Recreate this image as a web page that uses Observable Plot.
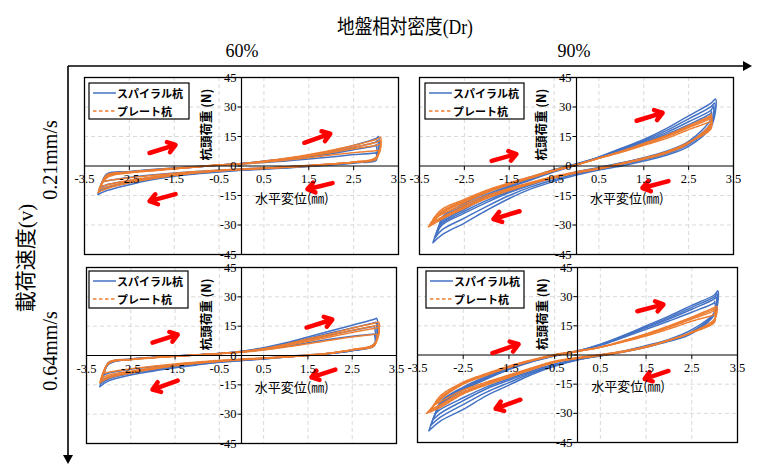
<!DOCTYPE html>
<html><head><meta charset="utf-8">
<script src="https://cdn.jsdelivr.net/npm/d3@7"></script>
<script src="https://cdn.jsdelivr.net/npm/@observablehq/plot@0.6"></script>
<style>
body{margin:0;background:#fff;}
#root{position:relative;width:759px;height:465px;overflow:hidden;background:#fff;}
#root > svg{position:absolute;}
</style></head><body><div id="root"></div>
<script>
// ---------- text ----------
const colTitle = "地盤相対密度(Dr)";
const colLabels = ["60%", "90%"];
const rowTitle = "載荷速度(v)";
const rowLabels = ["0.21mm/s", "0.64mm/s"];
const seriesNames = ["スパイラル杭", "プレート杭"];
const yAxisTitle = "杭頭荷重 (N)";
const xAxisTitle = "水平変位(㎜)";

// ---------- axes ----------
const xTicks = [-3.5, -2.5, -1.5, -0.5, 0.5, 1.5, 2.5, 3.5];
const yTicks = [-45, -30, -15, 0, 15, 30, 45];
const gridX = [-2.5, -1.5, -0.5, 0.5, 1.5, 2.5];
const gridY = [-30, -15, 15, 30];

// x positions where each loop branch is read (mm)
const XS = [-3.0, -2.5, -2.0, -1.5, -1.0, -0.5, 0, 0.5, 1.0, 1.5, 2.0, 2.5, 3.0];

// ---------- Dr 60%, v 0.21 mm/s ----------
const tl_spiral = [
  {L:[-3.2,-14.5], R:[3.05,15], up:[-5,-3.2,-2.2,-1.3,-0.5,0.5,1.3,2.5,3.8,5.5,7.5,10.5,14], dn:[-12.5,-9.5,-7,-5.2,-4,-3,-2.2,-1.6,-1,-0.3,0.5,1.5,4]},
  {L:[-3.18,-12.8], R:[3.03,13], up:[-4.8,-3.1,-2.1,-1.25,-0.45,0.45,1.25,2.35,3.55,5,6.8,9.4,12.3], dn:[-11,-8.5,-6.4,-4.9,-3.8,-2.8,-2,-1.45,-0.85,-0.15,0.65,1.6,3.7]},
  {L:[-3.15,-11], R:[3.0,11], up:[-4.5,-3,-2,-1.2,-0.4,0.4,1.2,2.2,3.3,4.6,6.2,8.3,10.5], dn:[-9.5,-7.5,-5.8,-4.5,-3.5,-2.6,-1.9,-1.3,-0.7,0,0.8,1.8,3.5]},
  {L:[-3.1,-8], R:[3.0,7], up:[-4,-2.8,-1.8,-1,-0.3,0.4,1,1.8,2.6,3.5,4.6,5.8,6.8], dn:[-7.5,-5.8,-4.6,-3.6,-2.8,-2.1,-1.5,-1,-0.4,0.2,1,1.8,2.8]}
];
const tl_plate = [
  {L:[-3.2,-13.5], R:[3.1,14.5], up:[-6,-3.5,-2.5,-1.5,-0.5,0.5,1.2,2.5,4,5.8,8,10.5,13.5], dn:[-11.5,-8.5,-6.5,-4.8,-3.5,-2.5,-1.8,-1.3,-0.7,0,1,2,4.5]},
  {L:[-3.18,-12], R:[3.1,12.8], up:[-5.5,-3.35,-2.35,-1.4,-0.45,0.5,1.15,2.35,3.75,5.4,7.4,9.6,12], dn:[-10.5,-7.9,-6,-4.55,-3.35,-2.45,-1.75,-1.2,-0.6,0.1,1,2,4.2]},
  {L:[-3.15,-10.5], R:[3.1,11], up:[-5,-3.2,-2.2,-1.3,-0.4,0.5,1.1,2.2,3.5,5,6.8,8.8,10.5], dn:[-9.5,-7.3,-5.6,-4.3,-3.2,-2.4,-1.7,-1.1,-0.5,0.2,1,2,4]},
  {L:[-3.1,-8], R:[3.05,8], up:[-4.5,-3,-2,-1.1,-0.3,0.5,1,1.9,3,4.2,5.6,6.8,7.8], dn:[-7.5,-6,-4.8,-3.7,-2.8,-2.1,-1.5,-1,-0.4,0.3,1,1.8,3.5]}
];
const tl_arrows = [[-2.05,6.6,-1.47,10.7],[1.40,11.8,1.98,16.4],[2.03,-8.7,1.47,-11.8],[-1.47,-14.3,-2.05,-17.9]];

// ---------- Dr 90%, v 0.21 mm/s ----------
const tr_spiral = [
  {L:[-3.2,-39], R:[3.1,34], up:[-29,-22,-16,-11,-7,-3,0.5,4.5,9,13.5,19,25.5,32], dn:[-35,-29,-22.5,-16.5,-11.5,-7.8,-4.6,-2,0,2.5,5.5,10,20]},
  {L:[-3.15,-36.5], R:[3.08,32], up:[-28,-21,-15.2,-10.5,-6.5,-2.5,0.8,4.5,8.8,13,18,24,30.2], dn:[-32.5,-26.5,-20.5,-15,-10.5,-7,-3.9,-1.5,0.8,3.2,6.2,11,21]},
  {L:[-3.1,-34], R:[3.05,30.5], up:[-27,-20,-14.5,-10,-6,-2,1,4.5,8.5,12.5,17,22.5,28.5], dn:[-30,-24,-18.5,-13.5,-9.5,-6,-3,-1,1.5,4,7,12,22]},
  {L:[-3.05,-30], R:[3.0,28], up:[-26,-19,-13.5,-9,-5.5,-1.8,1.2,4.5,8,12,16,21,27], dn:[-29,-23,-17.5,-12.8,-9,-5.8,-3,-0.8,1.6,4.2,7.5,12.5,24]}
];
const tr_plate = [
  {L:[-3.3,-31], R:[3.0,26.5], up:[-24,-18.5,-13.5,-9.5,-6,-2.5,0.5,4,7.5,11.5,15.5,20.5,26], dn:[-27,-21.5,-16.5,-12.5,-9,-6,-3.5,-1.5,1,3.5,6.5,11.5,22]},
  {L:[-3.28,-30], R:[3.0,25.8], up:[-23.5,-18,-13.1,-9.2,-5.8,-2.35,0.6,4,7.4,11.2,15.1,20,25.3], dn:[-26.5,-21,-16.1,-12.2,-8.8,-5.8,-3.35,-1.35,1.1,3.65,6.75,11.8,21]},
  {L:[-3.25,-29], R:[3.0,25], up:[-23,-17.5,-12.8,-9,-5.6,-2.2,0.7,4,7.3,11,14.8,19.5,24.5], dn:[-26,-20.5,-15.8,-12,-8.6,-5.6,-3.2,-1.2,1.2,3.8,7,12,20]},
  {L:[-3.2,-27], R:[3.0,23.5], up:[-22,-17,-12.3,-8.6,-5.3,-2,0.8,3.9,7,10.5,14,18.5,23], dn:[-24.5,-19.5,-15,-11.4,-8.2,-5.3,-3,-1,1.4,4,7.2,12,19]}
];
const tr_arrows = [[-1.89,2.6,-1.34,6.1],[1.34,23,1.92,27],[2.05,-7.7,1.47,-11.2],[-1.27,-23,-1.85,-27]];

// ---------- Dr 60%, v 0.64 mm/s ----------
const bl_spiral = [
  {L:[-3.2,-16], R:[3.05,19], up:[-4.5,-2,-1,-0.3,0.3,1,2.2,4,6.5,9.5,12.5,15.5,18.5], dn:[-13,-10,-8,-6.3,-4.8,-3.5,-2.6,-1.8,-0.8,0,1,2.5,6]},
  {L:[-3.18,-14.5], R:[3.03,17], up:[-4.2,-2,-1,-0.3,0.3,1,2.1,3.75,6,8.7,11.5,14.1,16.8], dn:[-12,-9.2,-7.5,-5.9,-4.5,-3.35,-2.5,-1.7,-0.75,0.05,1,2.5,5.8]},
  {L:[-3.15,-13], R:[3.0,15], up:[-4,-2,-1,-0.3,0.3,1,2,3.5,5.5,8,10.5,12.8,15], dn:[-11,-8.5,-7,-5.5,-4.2,-3.2,-2.4,-1.6,-0.7,0.1,1,2.5,5.5]},
  {L:[-3.1,-10], R:[3.0,11], up:[-3.5,-1.8,-0.9,-0.2,0.4,1,1.8,3,4.6,6.5,8.3,9.8,11], dn:[-9,-7,-5.8,-4.6,-3.6,-2.8,-2.1,-1.4,-0.5,0.3,1.2,2.5,5]}
];
const bl_plate = [
  {L:[-3.2,-14], R:[3.1,17], up:[-4,-2.2,-1.2,-0.5,0.3,1,2,3.5,5.8,8.5,11,14,16.5], dn:[-11.5,-9,-7,-5.3,-4,-3,-2.2,-1.5,-0.8,0,1.2,3,6]},
  {L:[-3.18,-12.8], R:[3.1,15.5], up:[-3.9,-2.1,-1.15,-0.45,0.3,1,1.9,3.35,5.4,7.8,10.2,12.9,15.1], dn:[-10.8,-8.5,-6.6,-5.1,-3.85,-2.9,-2.1,-1.45,-0.75,0.05,1.2,3,5.8]},
  {L:[-3.15,-11.5], R:[3.1,14], up:[-3.8,-2,-1.1,-0.4,0.3,1,1.8,3.2,5,7.2,9.5,11.8,13.8], dn:[-10,-8,-6.3,-4.9,-3.7,-2.8,-2,-1.4,-0.7,0.1,1.2,3,5.5]},
  {L:[-3.1,-9], R:[3.05,11], up:[-3.5,-1.9,-1,-0.3,0.3,0.9,1.6,2.8,4.3,6,7.8,9.5,10.8], dn:[-8.5,-6.8,-5.5,-4.3,-3.3,-2.5,-1.8,-1.2,-0.5,0.3,1.2,2.8,5]}
];
const bl_arrows = [[-2.01,6.6,-1.44,10.7],[1.47,14.3,2.05,18.4],[2.12,-7.2,1.58,-11.2],[-1.44,-12.8,-2.01,-17.4]];

// ---------- Dr 90%, v 0.64 mm/s ----------
const br_spiral = [
  {L:[-3.25,-39], R:[3.07,33], up:[-26,-18,-12.5,-7.5,-3.5,-0.5,2,5.5,10,15,20,25.5,31], dn:[-34,-28,-21,-15.5,-10,-5.8,-2.6,-0.5,1.5,4,7,11,21]},
  {L:[-3.2,-36], R:[3.05,31.5], up:[-25.5,-17.5,-12.1,-7.2,-3.35,-0.4,2,5.35,9.7,14.5,19.2,24.5,30], dn:[-32,-25.5,-19.2,-14.2,-9.3,-5.3,-2.4,-0.4,1.65,4.25,7.25,11.5,21.5]},
  {L:[-3.15,-33], R:[3.03,30], up:[-25,-17,-11.8,-7,-3.2,-0.3,2,5.2,9.4,14,18.5,23.5,29], dn:[-30,-23.5,-17.5,-13,-8.8,-5,-2.3,-0.3,1.8,4.5,7.5,12,22]},
  {L:[-3.1,-30], R:[3.0,27.5], up:[-24,-16.5,-11.2,-6.6,-3,0,2.2,5,9,13.2,17.5,22,27], dn:[-28,-22,-16.5,-12.2,-8.2,-4.6,-2,0,2,4.8,8,13,22]}
];
const br_plate = [
  {L:[-3.3,-30], R:[3.05,25], up:[-22.8,-15,-10.5,-6.4,-3,-0.3,1.8,4,7.3,10.9,15,19.5,24.5], dn:[-27,-20,-15.5,-11.5,-7.5,-3.8,-1.8,-0.3,1.6,4,7.5,11.7,18.6]},
  {L:[-3.25,-29], R:[3.02,24.2], up:[-22.4,-14.8,-10.2,-6.2,-2.85,-0.15,1.9,4,7.15,10.6,14.6,19,23.8], dn:[-26.2,-19.5,-15,-11.1,-7.25,-3.65,-1.65,-0.15,1.7,4.1,7.55,11.6,18.3]},
  {L:[-3.2,-28], R:[3.0,23.5], up:[-22,-14.5,-10,-6,-2.7,0,2,4,7,10.3,14.2,18.5,23], dn:[-25.5,-19,-14.6,-10.8,-7,-3.5,-1.5,0,1.8,4.2,7.6,11.5,18]},
  {L:[-3.15,-26], R:[3.0,21.5], up:[-21,-14,-9.6,-5.7,-2.5,0.2,2.1,4,6.7,9.8,13.4,17.4,21], dn:[-24,-18,-14,-10.3,-6.6,-3.2,-1.3,0.2,2,4.4,7.7,11.5,17]}
];
const br_arrows = [[-1.86,1,-1.29,5.6],[1.31,22.5,1.88,26],[1.99,-8.2,1.47,-12.3],[-1.25,-23,-1.79,-27.6]];

// ---------- styles ----------
const BLUE = "#4472C4", ORANGE = "#ED7D31", RED = "#FF0000";
const SERIF = "'Liberation Serif','Times New Roman',serif";
const JP = "'Noto Sans CJK JP','Noto Sans',sans-serif";
const MIX = "'Liberation Serif','Noto Sans CJK JP',serif";

const root = document.getElementById("root");

// ---------- overall frame arrows & titles ----------
const ov = d3.select(root).append("svg").attr("width", 759).attr("height", 465).style("left","0px").style("top","0px");
ov.append("line").attr("x1",68).attr("y1",66).attr("x2",744).attr("y2",66).attr("stroke","#000").attr("stroke-width",1.6);
ov.append("path").attr("d","M743,61 L752,66 L743,71 Z").attr("fill","#000");
ov.append("line").attr("x1",68).attr("y1",66).attr("x2",68).attr("y2",456).attr("stroke","#000").attr("stroke-width",1.6);
ov.append("path").attr("d","M63,455 L68,464 L73,455 Z").attr("fill","#000");
ov.append("text").attr("transform","translate(405,27) scale(0.88,1)").attr("text-anchor","middle").attr("dominant-baseline","central")
  .attr("font-family",MIX).attr("font-size",20).text(colTitle);
[242, 574].forEach((cx,i)=>ov.append("text").attr("x",cx).attr("y",51).attr("text-anchor","middle").attr("dominant-baseline","central")
  .attr("font-family",SERIF).attr("font-size",18).text(colLabels[i]));
ov.append("text").attr("transform","translate(26,258) rotate(-90)").attr("text-anchor","middle").attr("dominant-baseline","central")
  .attr("font-family",MIX).attr("font-size",21).text(rowTitle);
[160, 351].forEach((cy,i)=>ov.append("text").attr("transform",`translate(50,${cy}) rotate(-90)`).attr("text-anchor","middle").attr("dominant-baseline","central")
  .attr("font-family",SERIF).attr("font-size",20).text(rowLabels[i]));

// ---------- helpers ----------
function loopPoints(loops) {
  const pts = [];
  loops.forEach((lp, i) => {
    const seq = [lp.L, ...XS.map((x, j) => [x, lp.up[j]]), lp.R, ...XS.map((x, j) => [x, lp.dn[j]]).reverse(), lp.L];
    seq.forEach(p => pts.push({x: p[0], y: p[1], loop: i}));
  });
  return pts;
}

function panel(left, top, w, h, spiral, plate, arrows) {
  const mL = 30, mR = 30, mT = 14, mB = 14;
  const chart = Plot.plot({
    width: w + mL + mR, height: h + mT + mB,
    marginLeft: mL, marginRight: mR, marginTop: mT, marginBottom: mB,
    x: {domain: [-3.5, 3.5], axis: null},
    y: {domain: [-45, 45], axis: null},
    style: {background: "transparent", overflow: "visible"},
    marks: [
      Plot.ruleX(gridX, {stroke: "#d9d9d9", strokeDasharray: "4,3", strokeWidth: 1}),
      Plot.ruleY(gridY, {stroke: "#d9d9d9", strokeDasharray: "4,3", strokeWidth: 1}),
      Plot.line(loopPoints(spiral), {x: "x", y: "y", z: "loop", stroke: BLUE, strokeWidth: 1.5, curve: "catmull-rom"}),
      Plot.line(loopPoints(plate), {x: "x", y: "y", z: "loop", stroke: ORANGE, strokeWidth: 1.5, strokeDasharray: "3,1.2", curve: "catmull-rom"}),
      Plot.ruleX([0], {stroke: "#000", strokeWidth: 1.2}),
      Plot.ruleY([0], {stroke: "#000", strokeWidth: 1.2}),
      Plot.link(yTicks, {x1: -0.09, x2: 0, y1: d => d, y2: d => d, stroke: "#000", strokeWidth: 1}),
      Plot.link(xTicks, {x1: d => d, x2: d => d, y1: 0, y2: -2, stroke: "#000", strokeWidth: 1}),
      Plot.arrow(arrows, {x1: d => d[0], y1: d => d[1], x2: d => d[2], y2: d => d[3], stroke: RED, strokeWidth: 4.5, headLength: 9, headAngle: 70}),
      Plot.text(yTicks, {x: 0, y: d => d, text: d => String(d), textAnchor: "end", dx: -5, fontSize: 12.5, fontFamily: SERIF, fill: "#000"}),
      Plot.text(xTicks, {x: d => d, y: 0, text: d => String(d), dy: 13, fontSize: 12.5, fontFamily: SERIF, fill: "#000"}),
      Plot.text([yAxisTitle], {x: 0, y: 21, text: d => d, rotate: -90, dx: -35, fontSize: 12.5, fontWeight: "bold", fontFamily: JP, fill: "#000"}),
      Plot.text([xAxisTitle], {x: 0.3, y: -16.5, text: d => d, textAnchor: "start", fontSize: 13, fontFamily: JP, fill: "#000"}),
      Plot.frame({stroke: "#000", strokeWidth: 1.3})
    ]
  });
  chart.style.left = (left - mL) + "px";
  chart.style.top = (top - mT) + "px";
  root.appendChild(chart);
}

function legend(left, top, w, h) {
  const g = d3.select(root).append("svg").attr("width", w + 2).attr("height", h + 2)
    .style("left", (left - 1) + "px").style("top", (top - 1) + "px");
  g.append("rect").attr("x", 1).attr("y", 1).attr("width", w).attr("height", h).attr("fill", "#fff").attr("stroke", "#000").attr("stroke-width", 1.2);
  const rows = [{c: BLUE, dash: null, y: 10}, {c: ORANGE, dash: "3.5,2.5", y: 28}];
  rows.forEach((r, i) => {
    g.append("line").attr("x1", 5).attr("x2", 28).attr("y1", r.y + 1).attr("y2", r.y + 1).attr("stroke", r.c).attr("stroke-width", 1.5).attr("stroke-dasharray", r.dash);
    g.append("text").attr("x", 29).attr("y", r.y + 1).attr("dominant-baseline", "central").attr("font-family", JP)
      .attr("font-size", 11).attr("font-weight", "bold").attr("fill", "#000").text(seriesNames[i]);
  });
}

panel(84, 77, 314, 177, tl_spiral, tl_plate, tl_arrows);
panel(419, 77, 314, 177, tr_spiral, tr_plate, tr_arrows);
panel(86, 267, 310, 176, bl_spiral, bl_plate, bl_arrows);
panel(417, 267, 320, 175, br_spiral, br_plate, br_arrows);
legend(89, 83, 100, 36);
legend(425, 83, 99, 36);
legend(89, 271, 99, 37);
legend(426, 271, 98, 37);
</script></body></html>
